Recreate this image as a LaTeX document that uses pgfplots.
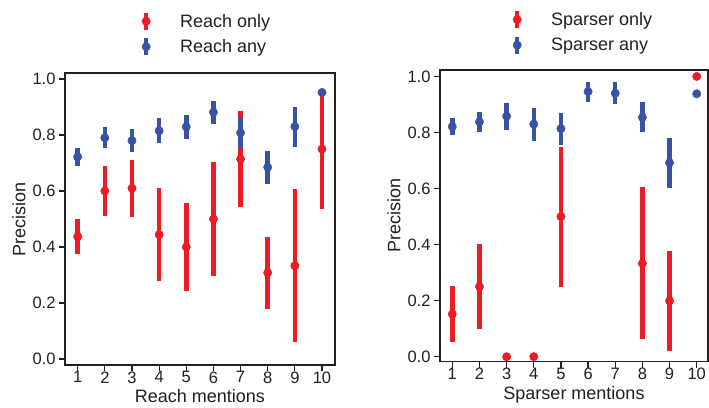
\documentclass[border=0pt]{standalone}
\usepackage{pgfplots}
\usepackage{pgfplotstable}
\pgfplotsset{compat=1.18}
\usepackage{fontspec}
\setmainfont{Liberation Sans}
\definecolor{rc}{RGB}{237,28,36}
\definecolor{bc}{RGB}{57,83,164}
\definecolor{fc}{RGB}{35,31,32}

\pgfplotstableread{
x y ep em
1 0.4375 0.0615 0.0635
2 0.600 0.089 0.088
3 0.610 0.102 0.102
4 0.444 0.168 0.165
5 0.400 0.156 0.156
6 0.500 0.205 0.204
7 0.714 0.172 0.170
8 0.308 0.129 0.129
9 0.333 0.273 0.272
10 0.750 0.210 0.215
}\reachonly

\pgfplotstableread{
x y ep em
1 0.722 0.030 0.033
2 0.790 0.040 0.038
3 0.780 0.041 0.042
4 0.815 0.047 0.045
5 0.829 0.042 0.044
6 0.881 0.042 0.043
7 0.808 0.055 0.053
8 0.685 0.057 0.060
9 0.830 0.069 0.072
10 0.952 0.011 0.009
}\reachany

\pgfplotstableread{
x y ep em
1 0.152 0.100 0.098
2 0.250 0.152 0.152
3 0.000 0 0
4 0.000 0 0
5 0.500 0.249 0.250
8 0.333 0.274 0.271
9 0.200 0.178 0.179
10 1.000 0 0
}\sparseronly

\pgfplotstableread{
x y ep em
1 0.821 0.030 0.031
2 0.838 0.036 0.038
3 0.858 0.049 0.049
4 0.830 0.056 0.059
5 0.814 0.055 0.058
6 0.946 0.035 0.038
7 0.940 0.039 0.039
8 0.854 0.054 0.053
9 0.692 0.090 0.089
10 0.938 0.012 0.012
}\sparserany

\pgfplotsset{
  myaxis/.style={
    scale only axis,
    xtick={1,2,3,4,5,6,7,8,9,10},
    ytick={0,0.2,0.4,0.6,0.8,1},
    tick align=outside, xtick pos=bottom, ytick pos=left,
    major tick length=6pt,
    axis line style={line width=1.5pt, fc},
    every tick/.style={line width=1.2pt, fc},
    tick label style={font=\fontsize{16.5}{18}\selectfont, text=fc},
    xticklabel style={yshift=3pt},
    label style={font=\fontsize{18}{20}\selectfont, text=fc},
    xlabel style={yshift=0.5pt},
    /pgf/number format/assume math mode=true,
    yticklabel style={/pgf/number format/.cd, fixed, fixed zerofill, precision=1},
    ylabel=Precision,
    legend cell align=left,
    legend style={draw=none, fill=none, inner sep=0pt, outer sep=0pt,
      nodes={inner sep=0pt}, column sep=0pt, row sep=4pt,
      font=\fontsize{18}{20}\selectfont, text=fc, anchor=north west},
    legend image code/.code={
      \draw[line width=4.5pt, line cap=butt] (0pt,-8.5pt) -- (0pt,8.5pt);
      \fill (0pt,0pt) circle (4.2pt);
      \path[draw=none, fill=none] (0pt,0pt) rectangle (34pt,0.1pt);
    },
  },
  ebar/.style={only marks, mark=*, mark size=4.2pt,
    error bars/.cd, y dir=both, y explicit, error mark=none,
    error bar style={line width=4.5pt}, /pgfplots/.cd},
}

\begin{document}
\begin{tikzpicture}
\useasboundingbox (0,0) rectangle (709pt,407pt);
\begin{axis}[myaxis,
  at={(65pt,42pt)}, anchor=south west,
  width=270pt, height=292pt,
  xmin=0.532, xmax=10.479, ymin=-0.0214, ymax=1.0214,
  xlabel={Reach mentions},
  legend style={at={(axis description cs:0.2844,1.214)}},
]
\addplot[color=rc, ebar] table[x=x, y=y, y error plus=ep, y error minus=em] {\reachonly};
\addlegendentry{Reach only}
\addplot[color=bc, ebar] table[x=x, y=y, y error plus=ep, y error minus=em] {\reachany};
\addlegendentry{Reach any}
\end{axis}
\begin{axis}[myaxis,
  at={(440pt,45.3pt)}, anchor=south west,
  width=268pt, height=291.7pt,
  xmin=0.547, xmax=10.416, ymin=-0.0178, ymax=1.023,
  xlabel={Sparser mentions},
  legend style={at={(axis description cs:0.2716,1.2096)}},
]
\addplot[color=rc, ebar] table[x=x, y=y, y error plus=ep, y error minus=em] {\sparseronly};
\addlegendentry{Sparser only}
\addplot[color=bc, ebar] table[x=x, y=y, y error plus=ep, y error minus=em] {\sparserany};
\addlegendentry{Sparser any}
\end{axis}
\end{tikzpicture}
\end{document}
